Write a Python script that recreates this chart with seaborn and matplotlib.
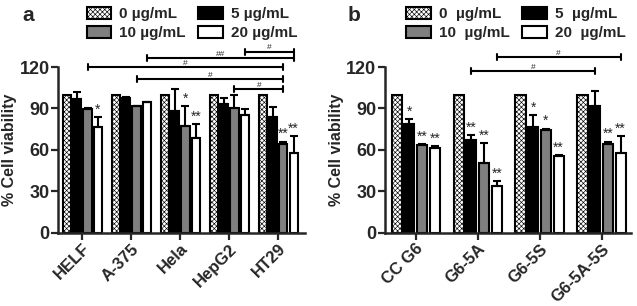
import numpy as np
import pandas as pd
import matplotlib
matplotlib.use("Agg")
import matplotlib.pyplot as plt
import seaborn as sns

# Data

conc_a = ["0 µg/mL", "5 µg/mL", "10 µg/mL", "20 µg/mL"]
conc_b = ["0  µg/mL", "5  µg/mL", "10  µg/mL", "20  µg/mL"]

cells_a = ["HELF", "A-375", "Hela", "HepG2", "HT29"]
mean_a = [
    [100, 100, 100, 100, 100],
    [97, 97.5, 88.5, 93.5, 84],
    [89.5, 91.5, 77.5, 90.5, 64],
    [76.5, 94.5, 68.5, 85, 57.5],
]
err_a = [
    [0, 0, 0, 0, 0],
    [5, 0.5, 15.5, 4, 7],
    [1, 0.5, 14.5, 9.5, 2],
    [7, 0.5, 10, 4.5, 12.5],
]
stars_a = [
    ["", "", "", "", ""],
    ["", "", "", "", ""],
    ["", "", "*", "", "**"],
    ["*", "", "**", "", "**"],
]
# (category, hue, category, hue, height, label)
sig_a = [
    (3, 3, 4, 3, 131, "#"),
    (1, 3, 4, 3, 126.5, "##"),
    (0, 2, 4, 2, 120, "#"),
    (1, 2, 4, 2, 111, "#"),
    (3, 2, 4, 2, 104, "#"),
]

cells_b = ["CC G6", "G6-5A", "G6-5S", "G6-5A-5S"]
mean_b = [
    [100, 100, 100, 100],
    [79, 67.5, 76.5, 92],
    [63.5, 50.5, 74.5, 64],
    [61.5, 34, 55.5, 58],
]
err_b = [
    [0, 0, 0, 0],
    [3.5, 3, 8.5, 11],
    [0.5, 14.5, 1, 2],
    [1, 3.5, 1, 12],
]
stars_b = [
    ["", "", "", ""],
    ["*", "**", "*", ""],
    ["**", "**", "*", "**"],
    ["**", "**", "**", "**"],
]
sig_b = [
    (1, 3, 3, 3, 127, "#"),
    (1, 1, 3, 1, 117, "#"),
]

colors = ["white", "black", "#7f7f7f", "white"]

sns.set_style("white")
plt.rcParams["font.family"] = ["Liberation Sans", "DejaVu Sans"]
plt.rcParams["font.weight"] = "bold"
plt.rcParams["hatch.linewidth"] = 0.45

fig = plt.figure(figsize=(6.37, 3.06), dpi=100)


def draw_panel(ax, cells, conc, mean, err, stars, sig, width, gap, xlim):
    rows = []
    for i, c in enumerate(conc):
        for j, cell in enumerate(cells):
            rows.append({"cell": cell, "conc": c, "value": mean[i][j]})
    df = pd.DataFrame(rows)

    sns.barplot(
        data=df,
        x="cell",
        y="value",
        hue="conc",
        palette=colors,
        width=width,
        gap=gap,
        edgecolor="black",
        linewidth=1.5,
        errorbar=None,
        legend=False,
        ax=ax
    )

    bar_sets = list(ax.containers)

    pos = []
    for i, cont in enumerate(bar_sets):
        xs = []
        for bar in cont.patches:
            if i == 0:
                bar.set_hatch("xxxxxxx")
                bar.set_facecolor("white")
            xs.append(bar.get_x() + bar.get_width() / 2)
        pos.append(xs)
        xs = np.array(xs)
        m = np.array(mean[i])
        e = np.array(err[i])
        has = e > 0
        if has.any():
            ax.errorbar(
                xs[has], m[has],
                yerr=[np.zeros(has.sum()), e[has]],
                fmt="none", ecolor="black",
                elinewidth=1.5, capsize=3, capthick=1.5, zorder=1
            )
        for j, s in enumerate(stars[i]):
            if s:
                ax.text(xs[j], m[j] + e[j] + 0.3, s, ha="center", va="bottom",
                        fontsize=10, fontweight="normal")

    for c1, h1, c2, h2, y, lab in sig:
        x1 = pos[h1][c1]
        x2 = pos[h2][c2]
        ax.plot([x1, x2], [y, y], color="black", lw=1.5, clip_on=False)
        ax.plot([x1, x1], [y - 2.2, y + 2.2], color="black", lw=1.5, clip_on=False)
        ax.plot([x2, x2], [y - 2.2, y + 2.2], color="black", lw=1.5, clip_on=False)
        ax.text((x1 + x2) / 2, y + 0.3, lab, ha="center", va="bottom",
                fontsize=6, fontweight="normal", clip_on=False)

    ax.set_xlim(*xlim)
    ax.set_ylim(0, 120)
    ax.set_yticks([0, 30, 60, 90, 120])
    ax.set_xlabel("")
    ax.set_ylabel("% Cell viability", fontsize=11.5, fontweight="bold", labelpad=2)
    sns.despine(ax=ax)
    ax.spines["left"].set_linewidth(1.8)
    ax.spines["bottom"].set_linewidth(1.8)
    ax.tick_params(axis="both", direction="out", length=5, width=1.6,
                   labelsize=13, bottom=True, left=True, pad=1)
    for t in ax.get_yticklabels():
        t.set_fontweight("bold")
    ax.set_xticks(range(len(cells)))
    ax.set_xticklabels(cells, rotation=45, ha="right", rotation_mode="anchor",
                       fontsize=12, fontweight="bold")

    handles = [
        plt.Rectangle((0, 0), 1, 1, facecolor="white", edgecolor="black", hatch="xxxxxxx", lw=1.5),
        plt.Rectangle((0, 0), 1, 1, facecolor="black", edgecolor="black", lw=1.5),
        plt.Rectangle((0, 0), 1, 1, facecolor="#7f7f7f", edgecolor="black", lw=1.5),
        plt.Rectangle((0, 0), 1, 1, facecolor="white", edgecolor="black", lw=1.5),
    ]
    order = [0, 2, 1, 3]
    return [handles[k] for k in order], [conc[k] for k in order]


ax_a = fig.add_axes([0.091, 0.239, 0.388, 0.542])
h, l = draw_panel(ax_a, cells_a, conc_a, mean_a, err_a, stars_a, sig_a,
                  0.84, 0.2, (-0.5, 4.55))
ax_a.legend(h, l, ncol=2, loc="upper left", bbox_to_anchor=(0.125, 1.0),
            bbox_transform=fig.transFigure, frameon=False,
            prop={"size": 11, "weight": "bold"}, handlelength=1.6,
            handleheight=0.85, handletextpad=0.55, columnspacing=0.8,
            labelspacing=0.3, borderaxespad=0.2, borderpad=0.25)
fig.text(0.035, 0.95, "a", fontsize=15, fontweight="bold", va="center")

ax_b = fig.add_axes([0.604, 0.239, 0.387, 0.542])
h, l = draw_panel(ax_b, cells_b, conc_b, mean_b, err_b, stars_b, sig_b,
                  0.82, 0.2, (-0.5, 3.48))
ax_b.legend(h, l, ncol=2, loc="upper left", bbox_to_anchor=(0.627, 1.0),
            bbox_transform=fig.transFigure, frameon=False,
            prop={"size": 11, "weight": "bold"}, handlelength=1.6,
            handleheight=0.85, handletextpad=0.55, columnspacing=0.8,
            labelspacing=0.3, borderaxespad=0.2, borderpad=0.25)
fig.text(0.545, 0.95, "b", fontsize=15, fontweight="bold", va="center")

plt.savefig("out.png", dpi=100)
